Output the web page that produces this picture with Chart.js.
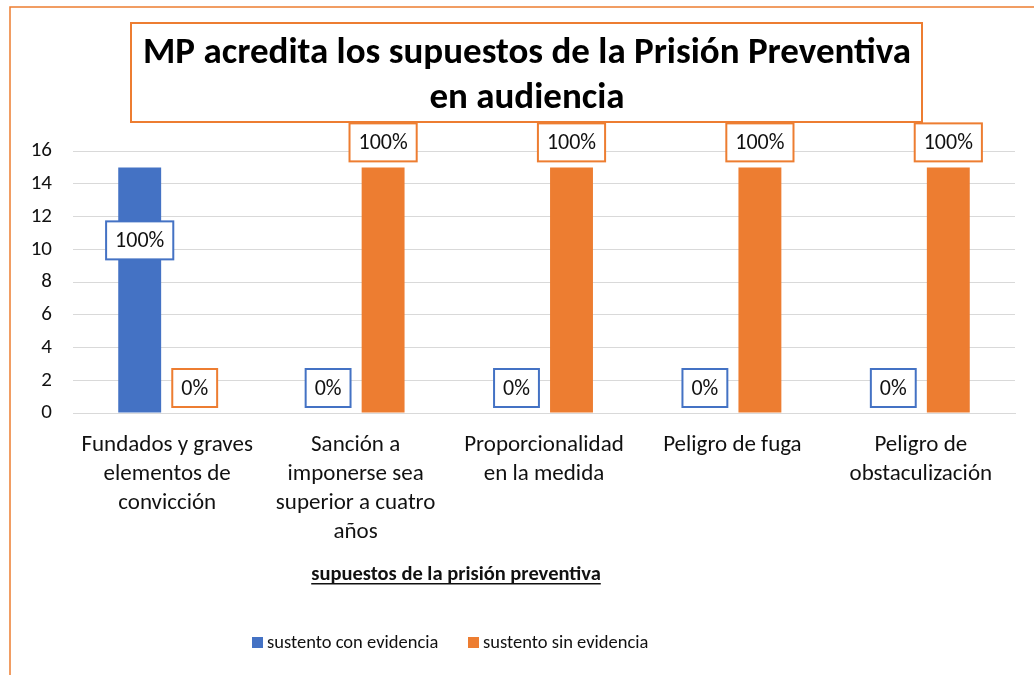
<!DOCTYPE html>
<html>
<head>
<meta charset="utf-8">
<script src="https://cdn.jsdelivr.net/npm/chart.js"></script>
<style>
  html, body { margin: 0; padding: 0; background: #fff; }
  #wrap { width: 1034px; height: 675px; position: relative; }
</style>
</head>
<body>
<div id="wrap"><canvas id="grafico" width="1034" height="675"></canvas></div>
<script>
// datos
const categorias = [
  ['Fundados y graves', 'elementos de', 'convicción'],
  ['Sanción a', 'imponerse sea', 'superior a cuatro', 'años'],
  ['Proporcionalidad', 'en la medida'],
  ['Peligro de fuga'],
  ['Peligro de', 'obstaculización']
];
const conEvidencia = [15, 0, 0, 0, 0];
const sinEvidencia = [0, 15, 15, 15, 15];
const etiquetasCon = ['100%', '0%', '0%', '0%', '0%'];
const etiquetasSin = ['0%', '100%', '100%', '100%', '100%'];
const serieNombres = ['sustento con evidencia', 'sustento sin evidencia'];
const tituloLineas = ['MP acredita los supuestos de la Prisión Preventiva', 'en audiencia'];
const tituloEje = 'supuestos de la prisión preventiva';
const yMax = 16, yPaso = 2;

const AZUL = '#4472C4';
const NARANJA = '#ED7D31';
const FUENTE = 'Carlito, Lato, "Open Sans", sans-serif';

// etiquetas de datos con recuadro
const etiquetasPlugin = {
  id: 'etiquetas',
  afterDatasetsDraw(chart) {
    const ctx = chart.ctx;
    chart.data.datasets.forEach((ds, i) => {
      const meta = chart.getDatasetMeta(i);
      meta.data.forEach((bar, j) => {
        const txt = ds.etiquetas[j];
        const off = ds.data[j] > 0 ? ds.offsetLleno : -25;
        const cx = bar.x, cy = bar.y + off;
        ctx.save();
        ctx.font = '22px ' + FUENTE;
        const w = ctx.measureText(txt).width + 18;
        const h = 38;
        ctx.fillStyle = '#fff';
        ctx.fillRect(cx - w / 2, cy - h / 2, w, h);
        ctx.strokeStyle = ds.backgroundColor;
        ctx.lineWidth = 2;
        ctx.strokeRect(cx - w / 2, cy - h / 2, w, h);
        ctx.fillStyle = '#111';
        ctx.textAlign = 'center';
        ctx.textBaseline = 'middle';
        ctx.fillText(txt, cx, cy + 1);
        ctx.restore();
      });
    });
  }
};

// marco, titulo, titulo de eje y leyenda
const decoracionPlugin = {
  id: 'decoracion',
  afterDraw(chart) {
    const ctx = chart.ctx;
    ctx.save();
    // marco exterior
    ctx.strokeStyle = NARANJA;
    ctx.lineWidth = 1.5;
    ctx.beginPath();
    ctx.moveTo(10, 700);
    ctx.lineTo(10, 7);
    ctx.lineTo(1040, 7);
    ctx.stroke();

    // recuadro del titulo
    ctx.fillStyle = '#fff';
    ctx.fillRect(131, 23, 791, 99);
    ctx.lineWidth = 2;
    ctx.strokeRect(131, 23, 791, 99);
    ctx.fillStyle = '#000';
    ctx.font = 'bold 37px ' + FUENTE;
    ctx.textAlign = 'center';
    ctx.textBaseline = 'alphabetic';
    ctx.fillText(tituloLineas[0], 527, 63);
    ctx.fillText(tituloLineas[1], 527, 108);

    // titulo del eje x, subrayado
    ctx.font = 'bold 20.5px ' + FUENTE;
    ctx.fillStyle = '#111';
    ctx.fillText(tituloEje, 456, 580);
    const tw = ctx.measureText(tituloEje).width;
    ctx.fillRect(456 - tw / 2, 583, tw, 1.5);

    // leyenda
    ctx.font = '18.5px ' + FUENTE;
    ctx.textAlign = 'left';
    ctx.textBaseline = 'middle';
    const items = [[252, AZUL, serieNombres[0]], [468, NARANJA, serieNombres[1]]];
    items.forEach(([x, c, t]) => {
      ctx.fillStyle = c;
      ctx.fillRect(x, 637, 11, 11);
      ctx.fillStyle = '#111';
      ctx.fillText(t, x + 15, 643);
    });
    ctx.restore();
  }
};

new Chart(document.getElementById('grafico'), {
  type: 'bar',
  data: {
    labels: categorias,
    datasets: [
      { label: serieNombres[0], data: conEvidencia, backgroundColor: AZUL, etiquetas: etiquetasCon, offsetLleno: 73 },
      { label: serieNombres[1], data: sinEvidencia, backgroundColor: NARANJA, etiquetas: etiquetasSin, offsetLleno: -25 }
    ]
  },
  options: {
    responsive: false,
    animation: false,
    layout: { padding: { left: 0, top: 151, right: 19, bottom: 0 } },
    datasets: { bar: { categoryPercentage: 0.584, barPercentage: 0.78 } },
    plugins: { legend: { display: false }, title: { display: false }, tooltip: { enabled: false } },
    scales: {
      x: {
        grid: { display: false, drawTicks: false },
        border: { color: '#d9d9d9' },
        ticks: { color: '#111', font: { family: FUENTE, size: 23, lineHeight: '29px' }, padding: 18, maxRotation: 0, autoSkip: false },
        afterFit(s) { s.height = 262; }
      },
      y: {
        min: 0, max: yMax,
        grid: { color: '#d9d9d9', drawTicks: false },
        border: { display: false },
        ticks: { stepSize: yPaso, color: '#111', font: { family: FUENTE, size: 21 }, padding: 21 },
        afterFit(s) { s.width = 73; }
      }
    }
  },
  plugins: [etiquetasPlugin, decoracionPlugin]
});
</script>
</body>
</html>
